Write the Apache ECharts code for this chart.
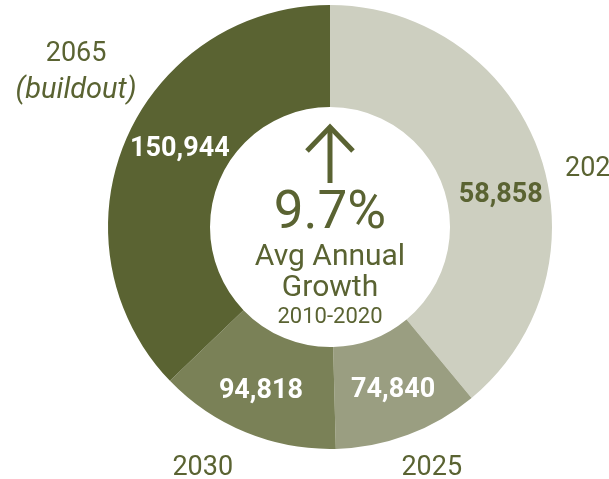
<!DOCTYPE html>
<html>
<head>
<meta charset="utf-8">
<script src="https://cdn.jsdelivr.net/npm/echarts@6/dist/echarts.min.js"></script>
<style>
  html, body { margin: 0; padding: 0; background: #ffffff; }
  #chart { width: 609px; height: 479px; }
</style>
</head>
<body>
<div id="chart"></div>
<script>
// Population milestones (cumulative) and how each ring segment is labelled.
const years = ['2020', '2025', '2030', '2065'];
const yearNotes = ['', '', '', '(buildout)'];
const population = [58858, 74840, 94818, 150944];
const growthRate = '9.7%';
const growthCaption = ['Avg Annual', 'Growth', '2010-2020'];

const segColors = ['#cdcfc0', '#9a9e81', '#7a8157', '#5a6332'];
const valueColors = ['#5a6332', '#ffffff', '#ffffff', '#ffffff'];
const ink = '#5a6332';

// Each segment spans the growth added since the previous milestone,
// so the full ring equals the buildout population.
const increments = population.map((p, i) => i === 0 ? p : p - population[i - 1]);

// Small hand nudges for label placement.
const valueNudge = [[7, 27], [2, 0], [-3, 3], [10, -10]];
const yearNudge = [[17, 32], [9, -6], [-27, -3], [-11, -51]];

const fmt = n => n.toLocaleString('en-US');
const FONT = 'Roboto';
const C = [330, 227];

const chart = echarts.init(document.getElementById('chart'), null, { renderer: 'canvas' });

chart.setOption({
  animation: false,
  series: [
    {
      type: 'pie',
      center: C,
      radius: [120, 222],
      startAngle: 90,
      clockwise: true,
      silent: true,
      avoidLabelOverlap: false,
      labelLine: { show: false },
      data: years.map((y, i) => ({
        name: y,
        value: increments[i],
        itemStyle: { color: segColors[i] },
        label: {
          show: true,
          position: 'inside',
          formatter: fmt(population[i]),
          color: valueColors[i],
          fontFamily: FONT,
          fontWeight: 'bold',
          fontSize: 27,
          offset: valueNudge[i]
        }
      }))
    },
    {
      type: 'pie',
      center: C,
      radius: [260, 262],
      startAngle: 90,
      clockwise: true,
      silent: true,
      avoidLabelOverlap: false,
      labelLine: { show: false },
      itemStyle: { color: 'rgba(0,0,0,0)' },
      data: years.map((y, i) => ({
        name: y,
        value: increments[i],
        label: {
          show: true,
          position: 'inside',
          formatter: yearNotes[i] ? '{y|' + y + '}\n{n|' + yearNotes[i] + '}' : '{y|' + y + '}',
          rich: {
            y: { fontFamily: FONT, fontSize: 27, color: ink, lineHeight: 36 },
            n: { fontFamily: FONT, fontSize: 29, color: ink, fontStyle: 'italic', lineHeight: 36 }
          },
          offset: yearNudge[i]
        }
      }))
    }
  ],
  graphic: [
    {
      type: 'polyline',
      shape: { points: [[C[0], 183], [C[0], 127]] },
      style: { stroke: ink, lineWidth: 5, fill: null }
    },
    {
      type: 'polyline',
      shape: { points: [[C[0] - 23, 151], [C[0], 127], [C[0] + 23, 151]] },
      style: { stroke: ink, lineWidth: 5, fill: null, lineJoin: 'miter' }
    },
    {
      type: 'text',
      x: C[0], y: 215,
      style: { text: growthRate, font: '53px Roboto', fill: ink, align: 'center', verticalAlign: 'middle' }
    },
    {
      type: 'text',
      x: C[0], y: 257,
      style: { text: growthCaption[0], font: '30px Roboto', fill: ink, align: 'center', verticalAlign: 'middle' }
    },
    {
      type: 'text',
      x: C[0], y: 288,
      style: { text: growthCaption[1], font: '30px Roboto', fill: ink, align: 'center', verticalAlign: 'middle' }
    },
    {
      type: 'text',
      x: C[0], y: 317,
      style: { text: growthCaption[2], font: '22px Roboto', fill: ink, align: 'center', verticalAlign: 'middle' }
    }
  ]
});
</script>
</body>
</html>
